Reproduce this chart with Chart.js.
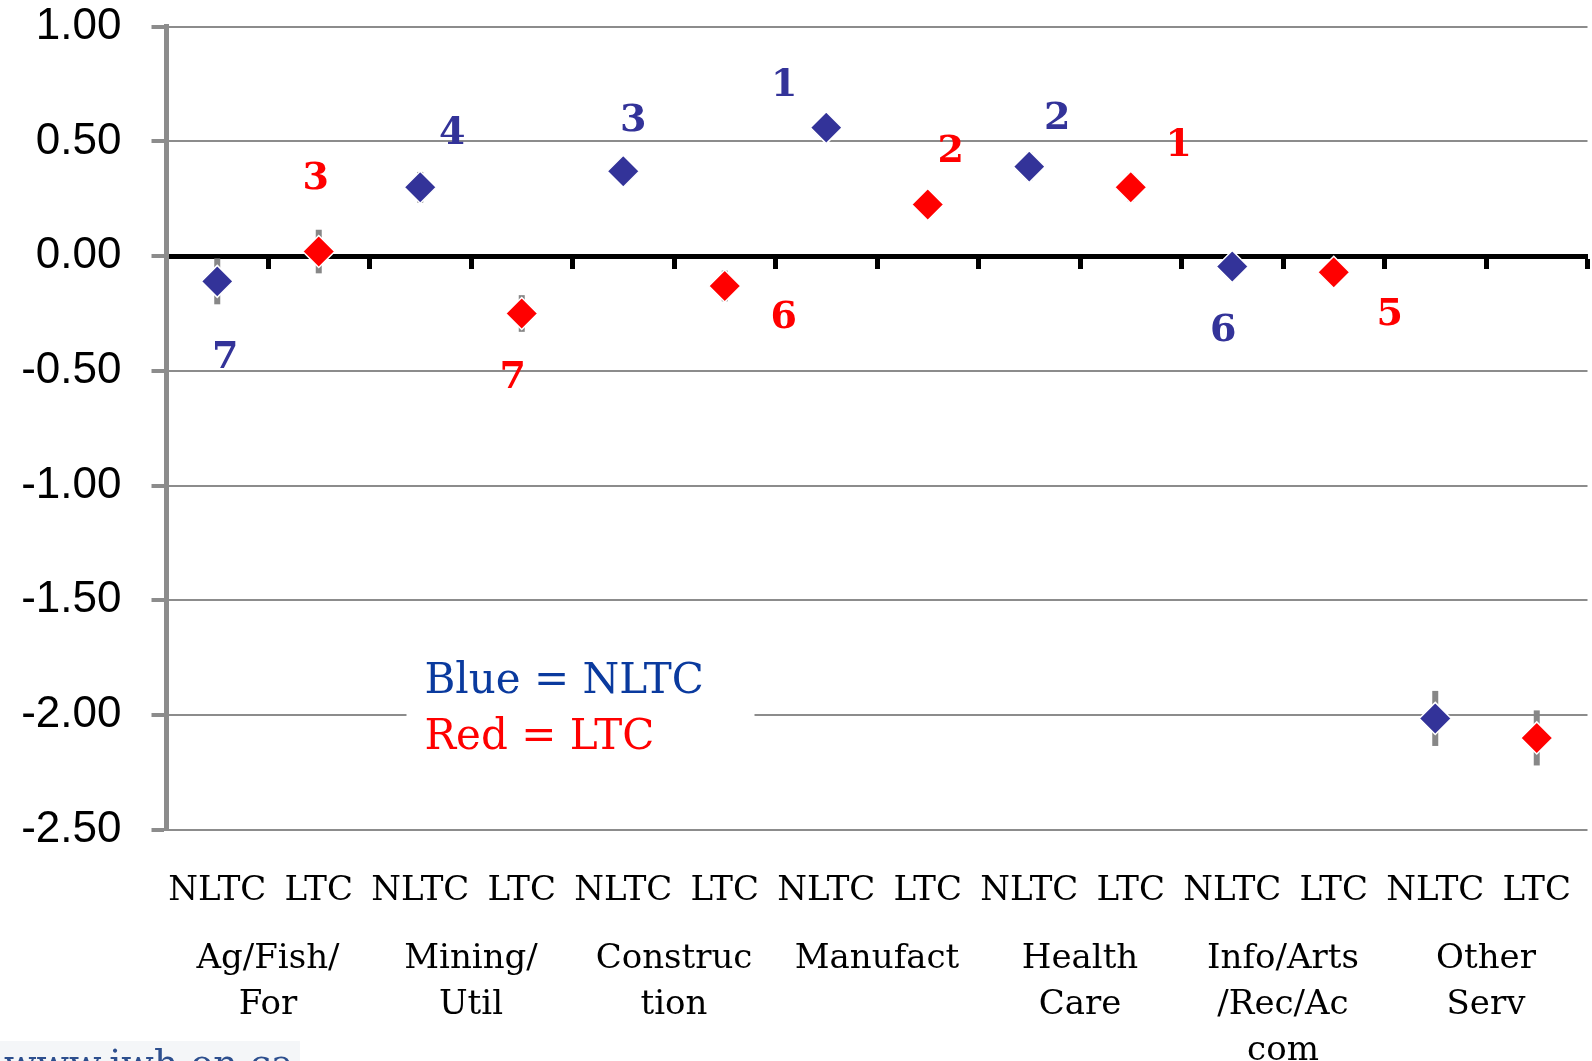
<!DOCTYPE html>
<html>
<head>
<meta charset="utf-8">
<title>Industry rankings: NLTC vs LTC</title>
<script src="https://cdn.jsdelivr.net/npm/chart.js@4.4.1/dist/chart.umd.min.js"></script>
<style>
  html, body { margin: 0; padding: 0; background: #ffffff; overflow: hidden; }
  #wrap { width: 1592px; height: 1061px; position: relative; }
</style>
</head>
<body>
<div id="wrap"><canvas id="chart" width="1592" height="1061"></canvas></div>
<script>
// Industry groups (multi-line tick labels) and the two claim types in each group
const groups = [
  ['Ag/Fish/', 'For'],
  ['Mining/', 'Util'],
  ['Construc', 'tion'],
  ['Manufact'],
  ['Health', 'Care'],
  ['Info/Arts', '/Rec/Ac', 'com'],
  ['Other', 'Serv']
];
const claimTypes = ['NLTC', 'LTC'];

// Estimates per group
const nltcValues = [-0.11, 0.30, 0.37, 0.56, 0.39, -0.045, -2.015];
const ltcValues  = [0.02, -0.25, -0.13, 0.225, 0.30, -0.07, -2.10];

// Half-length of the error bar around each estimate
const nltcErrors = [0.10, 0.067, 0.06, 0.04, 0.062, 0.04, 0.12];
const ltcErrors  = [0.095, 0.08, 0.067, 0.04, 0.062, 0.04, 0.12];

// Rank annotations shown beside the markers
const nltcRanks = [7, 4, 3, 1, 2, 6, null];
const ltcRanks  = [3, 7, 6, 2, 1, 5, null];

// Value axis
const yMin = -2.5;
const yMax = 1.0;
const yStep = 0.5;

// Build the 14 category slots: NLTC, LTC, NLTC, LTC, ...
const tickLabels = groups.flatMap(() => claimTypes);
const spread = (vals, slot) => tickLabels.map((_, i) => (i % 2 === slot ? vals[(i - slot) / 2] : null));

const BLUE = '#333399';
const RED = '#ff0000';
const GRID = '#8c8c8c';
const SERIF = "'DejaVu Serif', 'Liberation Serif', serif";

// Fixed axis box size, with no extra room reserved for overhanging labels
const fixSize = (w, h) => (s) => {
  if (w != null) s.width = w;
  if (h != null) s.height = h;
  s.paddingTop = 0;
  s.paddingBottom = 0;
  s.paddingLeft = 0;
  s.paddingRight = 0;
};

// Grey vertical error bars drawn underneath the markers
const errorBars = {
  id: 'errorBars',
  beforeDatasetsDraw(chart) {
    const { ctx, scales: { y } } = chart;
    ctx.save();
    ctx.strokeStyle = '#878787';
    ctx.lineWidth = 6;
    chart.data.datasets.forEach((ds, di) => {
      const meta = chart.getDatasetMeta(di);
      meta.data.forEach((pt, i) => {
        const v = ds.data[i];
        const e = ds.errors[i];
        if (v == null || e == null) return;
        ctx.beginPath();
        ctx.moveTo(pt.x, y.getPixelForValue(v + e));
        ctx.lineTo(pt.x, y.getPixelForValue(v - e));
        ctx.stroke();
      });
    });
    ctx.restore();
  }
};

// Rank numbers placed near each marker (offsets in pixels from the marker)
const rankLabels = {
  id: 'rankLabels',
  afterDatasetsDraw(chart, args, opts) {
    const { ctx } = chart;
    ctx.save();
    ctx.font = 'bold 38px ' + SERIF;
    ctx.textAlign = 'center';
    ctx.textBaseline = 'alphabetic';
    chart.data.datasets.forEach((ds, di) => {
      const meta = chart.getDatasetMeta(di);
      const offsets = opts.offsets[di];
      ctx.fillStyle = ds.pointBackgroundColor;
      meta.data.forEach((pt, i) => {
        const r = ds.ranks[i];
        if (r == null || ds.data[i] == null) return;
        const [dx, dy] = offsets[(i - di) / 2];
        const t = String(r);
        const m = ctx.measureText(t);
        const cy = pt.y + dy + (m.actualBoundingBoxAscent - m.actualBoundingBoxDescent) / 2;
        ctx.fillText(t, pt.x + dx, cy);
      });
    });
    ctx.restore();
  }
};

// Colour key text box and site address
const notes = {
  id: 'notes',
  afterDraw(chart) {
    const { ctx, chartArea: a } = chart;
    ctx.save();
    // key box
    const left = a.left + 240;
    ctx.fillStyle = '#ffffff';
    ctx.fillRect(left, a.top + 625, 348, 110);
    ctx.font = '42px ' + SERIF;
    ctx.textAlign = 'left';
    ctx.textBaseline = 'alphabetic';
    ctx.fillStyle = '#0a3a9e';
    ctx.fillText('Blue = NLTC', a.left + 258, a.top + 666);
    ctx.fillStyle = RED;
    ctx.fillText('Red = LTC', a.left + 258, a.top + 722);
    // address at the foot of the page
    ctx.fillStyle = '#f4f6f8';
    ctx.fillRect(0, chart.height - 20, 300, 20);
    ctx.font = '38px ' + SERIF;
    ctx.fillStyle = '#2d4f8e';
    ctx.fillText('www.iwh.on.ca', 4, chart.height + 15);
    ctx.restore();
  }
};

const pointStyle = (color) => ({
  showLine: false,
  pointStyle: 'rectRot',
  pointRadius: 16,
  pointHoverRadius: 16,
  pointBackgroundColor: color,
  pointBorderColor: '#ffffff',
  pointBorderWidth: 1.5,
  pointHoverBorderWidth: 1.5,
  borderColor: color,
  backgroundColor: color
});

new Chart(document.getElementById('chart'), {
  type: 'line',
  data: {
    labels: tickLabels,
    datasets: [
      Object.assign({ label: 'NLTC', data: spread(nltcValues, 0), errors: spread(nltcErrors, 0), ranks: spread(nltcRanks, 0) }, pointStyle(BLUE)),
      Object.assign({ label: 'LTC', data: spread(ltcValues, 1), errors: spread(ltcErrors, 1), ranks: spread(ltcRanks, 1) }, pointStyle(RED))
    ]
  },
  options: {
    responsive: false,
    animation: false,
    devicePixelRatio: 1,
    layout: { autoPadding: false, padding: { top: 26.7, right: 4.5, left: 0, bottom: 0 } },
    plugins: {
      legend: { display: false },
      tooltip: { enabled: false },
      rankLabels: {
        offsets: [
          [[8, 73], [32, -57], [10, -54], [-42, -46], [28, -52], [-9, 61], [0, 0]],
          [[-3, -76], [-9, 61], [59, 29], [23, -57], [48, -45], [56, 40], [0, 0]]
        ]
      }
    },
    scales: {
      x: {
        type: 'category',
        position: 'bottom',
        weight: 0,
        offset: true,
        grid: { display: false, drawTicks: false },
        border: { display: false },
        ticks: {
          color: '#000000',
          font: { family: SERIF, size: 34 },
          padding: 41,
          maxRotation: 0,
          autoSkip: false
        },
        afterFit: fixSize(null, 90)
      },
      xGroup: {
        type: 'category',
        labels: groups,
        position: 'bottom',
        weight: 1,
        offset: true,
        grid: { display: false, drawTicks: false },
        border: { display: false },
        ticks: {
          color: '#000000',
          font: { family: SERIF, size: 34, lineHeight: 1.36 },
          padding: 16,
          maxRotation: 0,
          autoSkip: false
        },
        afterFit: fixSize(null, 141.3)
      },
      xZero: {
        type: 'category',
        position: { y: 0 },
        offset: true,
        grid: {
          offset: true,
          drawOnChartArea: false,
          drawTicks: true,
          tickLength: 10,
          tickWidth: 5,
          tickColor: '#000000'
        },
        border: { display: true, color: '#000000', width: 5 },
        ticks: { display: false },
        afterFit: fixSize(null, null)
      },
      y: {
        min: yMin,
        max: yMax,
        ticks: {
          stepSize: yStep,
          color: '#000000',
          font: { family: "'Liberation Sans', Arial, sans-serif", size: 44 },
          padding: 30,
          callback: (v) => Number(v).toFixed(2)
        },
        grid: {
          color: (c) => (c.tick && Math.abs(c.tick.value) < 1e-9 ? 'rgba(0,0,0,0)' : GRID),
          lineWidth: 2,
          tickLength: 15,
          tickWidth: 4,
          tickColor: GRID
        },
        border: { color: GRID, width: 5 },
        afterFit: fixSize(166.5, null)
      }
    }
  },
  plugins: [errorBars, rankLabels, notes]
});
</script>
</body>
</html>
